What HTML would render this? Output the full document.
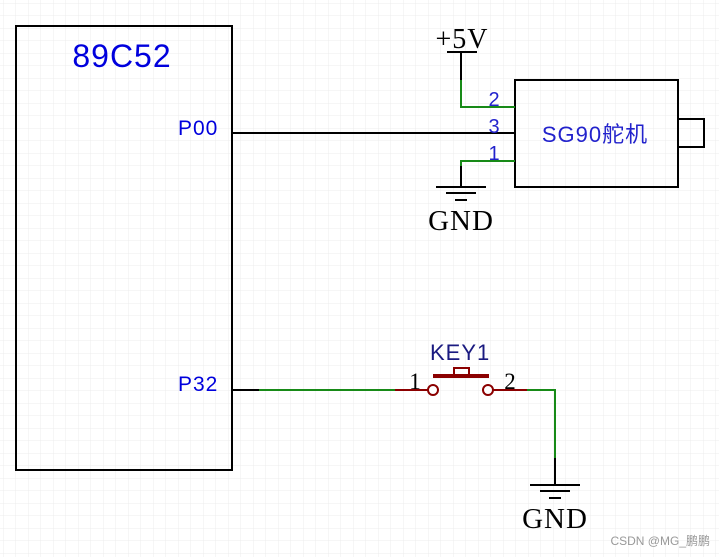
<!DOCTYPE html>
<html><head><meta charset="utf-8"><style>
html,body{margin:0;padding:0;background:#fff}
svg{display:block}
</style></head><body>
<svg width="719" height="557" viewBox="0 0 719 557" xmlns="http://www.w3.org/2000/svg">
<defs>
<pattern id="g" x="3" y="3" width="12.5" height="12.5" patternUnits="userSpaceOnUse">
<path d="M0 0H12.5M0 0V12.5" stroke="#ececec" stroke-width="1" fill="none"/>
</pattern>
</defs>
<rect width="719" height="557" fill="#fff"/>
<rect width="719" height="557" fill="url(#g)"/>
<g font-family="Liberation Sans, Noto Sans CJK SC, sans-serif">
<!-- chip -->
<rect x="16" y="26" width="216" height="444" fill="none" stroke="#000" stroke-width="2"/>
<text x="122" y="67" font-size="32" fill="#0000dd" text-anchor="middle" letter-spacing="1">89C52</text>
<text x="178" y="135" font-size="21" fill="#0000dd" letter-spacing="1">P00</text>
<text x="178" y="391" font-size="21" fill="#0000dd" letter-spacing="1">P32</text>
<!-- P00 line -->
<line x1="232" y1="133" x2="515" y2="133" stroke="#000" stroke-width="2"/>
<!-- servo -->
<rect x="515" y="80" width="163" height="107" fill="none" stroke="#000" stroke-width="2"/>
<rect x="678" y="119" width="26" height="28" fill="none" stroke="#000" stroke-width="2"/>
<text x="595" y="142" font-size="22" fill="#2222cc" text-anchor="middle" letter-spacing="1">SG90舵机</text>
<!-- +5V -->
<text x="462" y="48" font-size="28" font-family="Liberation Serif, serif" text-anchor="middle" letter-spacing="1">+5V</text>
<line x1="447" y1="52" x2="477" y2="52" stroke="#000" stroke-width="2"/>
<line x1="461" y1="52" x2="461" y2="80" stroke="#000" stroke-width="2"/>
<polyline points="461,80 461,107 515,107" fill="none" stroke="#178a17" stroke-width="2"/>
<text x="494" y="106" font-size="20" fill="#2222cc" text-anchor="middle">2</text>
<text x="494" y="133" font-size="20" fill="#2222cc" text-anchor="middle">3</text>
<text x="494" y="160" font-size="20" fill="#2222cc" text-anchor="middle">1</text>
<!-- GND 1 -->
<polyline points="515,161 461,161 461,166" fill="none" stroke="#178a17" stroke-width="2"/>
<line x1="461" y1="166" x2="461" y2="187" stroke="#000" stroke-width="2"/>
<line x1="436" y1="187" x2="486" y2="187" stroke="#000" stroke-width="2"/>
<line x1="446" y1="193" x2="476" y2="193" stroke="#000" stroke-width="2"/>
<line x1="455" y1="200" x2="467" y2="200" stroke="#000" stroke-width="2"/>
<text x="461" y="230" font-size="29" font-family="Liberation Serif, serif" text-anchor="middle" letter-spacing="1">GND</text>
<!-- P32 / key -->
<line x1="232" y1="390" x2="259" y2="390" stroke="#000" stroke-width="2"/>
<line x1="259" y1="390" x2="395" y2="390" stroke="#178a17" stroke-width="2"/>
<line x1="395" y1="390" x2="428" y2="390" stroke="#8b0000" stroke-width="2"/>
<circle cx="433" cy="390" r="5" fill="#fff" stroke="#8b0000" stroke-width="2"/>
<circle cx="488" cy="390" r="5" fill="#fff" stroke="#8b0000" stroke-width="2"/>
<line x1="493" y1="390" x2="527" y2="390" stroke="#8b0000" stroke-width="2"/>
<line x1="433" y1="376" x2="489" y2="376" stroke="#8b0000" stroke-width="4"/>
<rect x="454" y="368" width="15" height="7" fill="#fff" stroke="#8b0000" stroke-width="2"/>
<text x="430" y="360" font-size="22" fill="#1a1a80" letter-spacing="1">KEY1</text>
<text x="415" y="389" font-size="23" font-family="Liberation Serif, serif" text-anchor="middle">1</text>
<text x="510" y="389" font-size="23" font-family="Liberation Serif, serif" text-anchor="middle">2</text>
<polyline points="527,390 555,390 555,458" fill="none" stroke="#178a17" stroke-width="2"/>
<line x1="555" y1="458" x2="555" y2="485" stroke="#000" stroke-width="2"/>
<line x1="530" y1="485" x2="580" y2="485" stroke="#000" stroke-width="2"/>
<line x1="540" y1="491" x2="570" y2="491" stroke="#000" stroke-width="2"/>
<line x1="549" y1="498" x2="561" y2="498" stroke="#000" stroke-width="2"/>
<text x="555" y="528" font-size="29" font-family="Liberation Serif, serif" text-anchor="middle" letter-spacing="1">GND</text>
<text x="710" y="545" font-size="12" fill="#999" text-anchor="end">CSDN @MG_鹏鹏</text>
</g>
</svg>
</body></html>
